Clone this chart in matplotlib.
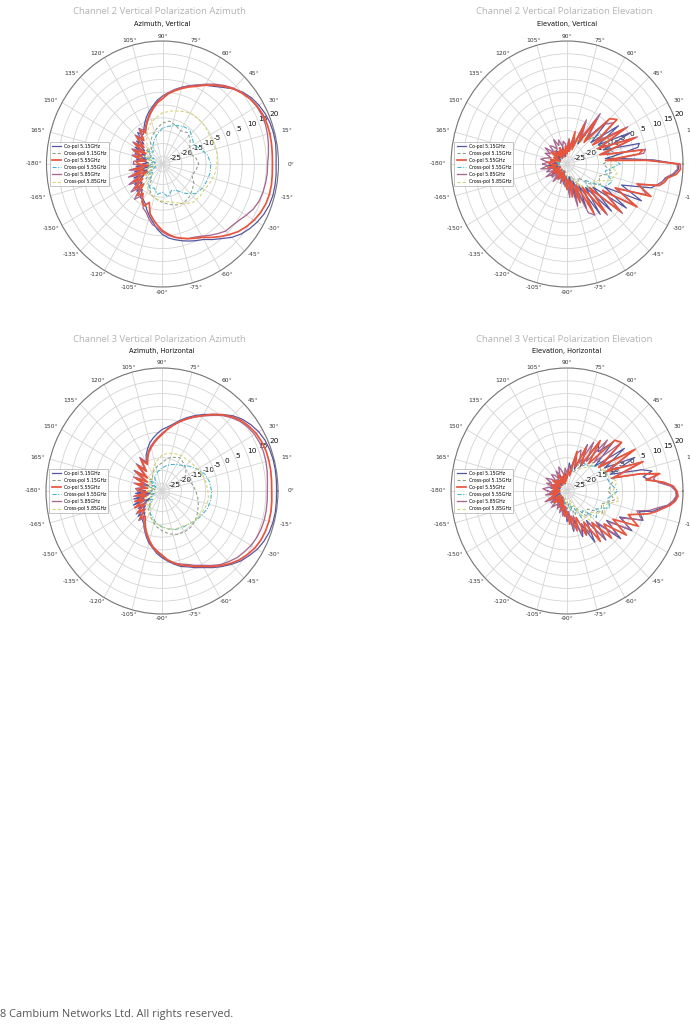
import numpy as np
import matplotlib
matplotlib.use('Agg')
import matplotlib.pyplot as plt

FIG_W, FIG_H = 690, 1025
fig = plt.figure(figsize=(6.9, 10.25), dpi=100)
fig.patch.set_facecolor('white')

# ---------------- angle grids (degrees) ----------------
AZ_ANG = np.arange(-180, 180, 5)
XP_ANG = np.arange(-180, 180, 10)
EL_ANG = np.concatenate([np.arange(-180, -14, 5), np.arange(-12.5, 12.6, 2.5), np.arange(15, 180, 5)])

SERIES_LABELS = ['Co-pol 5.15GHz', 'Cross-pol 5.15GHz', 'Co-pol 5.55GHz',
                 'Cross-pol 5.55GHz', 'Co-pol 5.85GHz', 'Cross-pol 5.85GHz']
THETA_TICKS = [0, 15, 30, 45, 60, 75, 90, 105, 120, 135, 150, 165,
               180, 195, 210, 225, 240, 255, 270, 285, 300, 315, 330, 345]
THETA_LABELS = ['0°', '15°', '30°', '45°', '60°', '75°', '90°', '105°', '120°', '135°',
                '150°', '165°', '-180°', '-165°', '-150°', '-135°', '-120°', '-105°',
                '-90°', '-75°', '-60°', '-45°', '-30°', '-15°']
R_TICKS = [-25, -20, -15, -10, -5, 0, 5, 10, 15, 20]

# ================= Channel 2 Azimuth, Vertical (5 deg / 10 deg grids) =================
c1_co515 = [-20, -17, -22, -16, -21, -15, -19, -14, -17, -13, -15, -12,
            -12, -11, -9, -7, -5, -2.5, -0.5, 1.0, 2.0, 3.0, 4.0, 5.0,
            6, 8, 10, 12.5, 14.5, 16, 17.3, 18.3, 19, 19.3, 19.3, 19.2,
            19, 19.2, 19.5, 19.5, 19.3, 18.8, 18, 17, 15.5, 13.5, 11, 9,
            7.5, 6, 4.5, 3, 1.5, -0.3, -1.5, -3, -5, -6.7, -8.5, -10.5,
            -12.5, -14, -12, -17, -14, -19, -15, -20, -16, -21, -17, -22]
c1_co555 = [-18, -22, -16, -20, -15, -21, -14, -18, -13, -17, -12, -14,
            -11, -10, -12, -8, -6, -4, -2, -0.5, 1, 2, 3, 4,
            5, 7, 9, 11, 13, 14.5, 15.8, 16.8, 17.5, 17.8, 17.8, 17.6,
            17.5, 17.6, 17.8, 18, 18, 17.8, 17.2, 16.3, 15, 13.5, 11.5, 9.5,
            7.5, 5.5, 4, 2.5, 1, -0.5, -2.5, -4, -6, -8, -10, -12,
            -14, -12, -16, -13, -18, -14, -20, -15, -19, -16, -21, -17]
c1_co585 = [-16, -20, -14, -19, -13, -18, -12, -16, -11, -15, -10, -13,
            -12, -9, -8, -6, -4, -3, -1.5, 0, 1, 2, 3, 3.5,
            4.5, 6, 7.5, 9, 9.5, 10.5, 12, 13.5, 14.5, 15, 15.3, 15.5,
            15.5, 16, 16.5, 17, 17.3, 17.3, 17, 16.3, 15.2, 13.8, 12, 10,
            8, 6, 4.5, 3, 1.5, 0, -1.5, -3.5, -5.5, -7.5, -9.5, -11.5,
            -13, -11, -15, -12, -17, -13, -18, -14, -17, -15, -19, -16]
c1_x515 = [-22, -24, -20, -23, -19, -21, -17, -15, -14, -13, -12, -11,
           -10.5, -11, -12, -13, -15, -14, -13, -14, -16, -15, -13, -12,
           -13, -12, -11, -12, -14, -16, -18, -21, -19, -23, -20, -24]
c1_x555 = [-24, -21, -25, -20, -23, -19, -17, -18, -16, -17, -15, -17,
           -16, -13, -10, -9, -8.5, -8, -8, -9, -11, -13, -12, -10.5,
           -11, -12, -13, -14, -16, -18, -20, -22, -20, -24, -21, -25]
c1_x585 = [-23, -20, -24, -19, -22, -18, -16, -15, -14, -13.5, -13, -12,
           -10, -8.5, -8, -8, -7, -6, -5.5, -5, -5.5, -5.5, -5, -5,
           -5, -6, -7, -8, -10, -12, -15, -18, -21, -19, -23, -20]

# ================= Channel 3 Azimuth, Horizontal =================
c3_co515 = [-21, -17, -23, -16, -20, -15, -22, -16, -19, -14, -17, -14,
            -13, -11, -9, -7, -5.5, -3.5, -2, -0.5, 1, 2.5, 3.5, 5,
            6.5, 8.5, 10.5, 12.5, 14.5, 16, 17.5, 18.5, 19.2, 19.5, 19.6, 19.5,
            19.4, 19.5, 19.6, 19.6, 19.4, 19, 18.2, 17, 15.5, 13.5, 11, 8.5,
            6.5, 4.5, 2.5, 0.5, -1.5, -3, -4, -5.5, -7, -8.5, -10.5, -12.5,
            -15, -13, -17, -15, -19, -14, -20, -16, -22, -17, -21, -18]
c3_co555 = [-19, -22, -17, -21, -16, -20, -15, -19, -15, -18, -14, -16,
            -14, -12, -10, -8, -6, -4.5, -3, -1, 0.5, 2, 3, 4.5,
            6, 8, 10, 12, 13.8, 15.2, 16.4, 17.2, 17.6, 17.8, 17.8, 17.6,
            17.4, 17.5, 17.7, 17.8, 17.8, 17.5, 17, 16, 14.8, 13, 10.8, 8.5,
            6, 4, 2, 0, -2, -4, -6, -7.5, -9, -10.5, -12, -14,
            -16, -13, -18, -14, -20, -15, -21, -16, -20, -17, -22, -18]
c3_co585 = [-18, -21, -16, -22, -17, -19, -16, -20, -14, -18, -13, -15,
            -13, -11, -9.5, -7.5, -5.5, -4, -2.5, -1, 0.5, 1.5, 2.5, 4,
            5.5, 7.5, 9.5, 11, 12.5, 13.5, 14.5, 15.2, 15.6, 15.8, 15.8, 15.7,
            15.6, 15.8, 16.2, 16.5, 16.7, 16.6, 16.2, 15.4, 14.2, 12.5, 10.5, 8,
            5.8, 3.8, 1.8, 0, -2, -3.8, -5.5, -7, -8.5, -10, -11.5, -13.5,
            -15, -12, -17, -13, -19, -14, -20, -15, -21, -16, -20, -17]
c3_x515 = [-23, -20, -24, -21, -22, -19, -18, -16, -14, -12.5, -11, -10,
           -9.5, -9.5, -10, -11, -12, -13, -14, -15, -16, -17, -15, -14,
           -13, -14, -15, -17, -18, -19, -20, -22, -21, -24, -21, -25]
c3_x555 = [-24, -22, -25, -21, -23, -20, -18, -17, -15, -14, -13, -12,
           -11.5, -11, -10, -9, -8, -7.5, -7.5, -8, -9, -11, -13, -15,
           -16, -17, -18, -19, -20, -21, -22, -24, -22, -25, -23, -24]
c3_x585 = [-22, -24, -20, -23, -19, -21, -17, -16, -15, -14, -13, -12,
           -12, -11, -10, -9.5, -9, -8.5, -9, -9.5, -10, -11, -11.5, -12,
           -12, -12.5, -13, -14, -16, -18, -20, -22, -20, -23, -21, -24]

# ================= Channel 2 Elevation, Vertical (EL_ANG grid) =================
c2_co555 = [-21, -24, -20, -23, -22, -25, -21, -24, -22, -25, -23, -21,
            -24, -22, -25, -21, -23, -22, -18, -22, -15, -21, -12, -19,
            -6, -17, -3, -15, 1, -10, 5.5, -6, 9, 2,
            11, 13, 14, 17.5, 19, 18.8, 5, -12, 2, 4, -10,
            -14, 2, -14, 0, -15, -1, -3, -17, -7, -18, -11, -22,
            -15, -23, -19, -24, -21, -24, -22, -25, -21, -24, -22, -25,
            -21, -23, -20, -24, -22, -25, -21, -23, -20]
c2_co515 = [-22, -20, -24, -21, -25, -22, -23, -20, -24, -22, -21, -24,
            -22, -25, -21, -24, -20, -23, -20, -16, -23, -13, -21, -9,
            -18, -4, -16, -2, -14, 2, -10, 6, -4, 8,
            10, 12, 13.5, 16.5, 18.2, 18, 8, -4, -12, -6, 2,
            3, -12, 1, -13, -2, -15, -4, -14, -9, -19, -12, -21,
            -17, -23, -20, -24, -22, -25, -21, -23, -24, -22, -25, -21,
            -23, -24, -21, -25, -22, -24, -23, -21, -24]
c2_co585 = [-18, -20, -17, -21, -19, -22, -18, -21, -20, -23, -19, -22,
            -21, -23, -20, -22, -21, -19, -22, -15, -21, -11, -18, -7,
            -5, -16, -2, -14, 2, -9, 4, -5, 7, 3,
            10, 12, 13, 16, 17.8, 17.5, 6, -10, 4, 5, -9,
            -12, 3, -13, 1, -12, -3, -6, -15, -4, -16, -9, -20,
            -16, -21, -18, -22, -20, -19, -21, -18, -20, -17, -21, -19,
            -18, -21, -17, -20, -18, -21, -19, -17, -20]
c2_x515 = [-25, -24, -25, -23, -25, -24, -25, -23, -24, -22, -20, -23,
           -18, -21, -16, -12, -14, -9, -13, -7, -10, -8, -12, -15,
           -14, -18, -20, -22, -24, -23, -25, -24, -25, -23, -25, -24]
c2_x555 = [-24, -25, -23, -25, -24, -25, -23, -24, -25, -21, -23, -19,
           -17, -14, -18, -10, -8, -12, -6, -11, -9, -13, -10, -16,
           -17, -19, -22, -21, -24, -25, -23, -25, -24, -25, -23, -25]
c2_x585 = [-23, -25, -24, -22, -25, -23, -24, -25, -22, -24, -20, -22,
           -19, -16, -13, -15, -9, -7, -10, -8, -12, -9, -14, -13,
           -19, -17, -21, -23, -22, -24, -25, -23, -24, -22, -25, -24]

# ================= Channel 3 Elevation, Horizontal =================
c4_co555 = [-22, -25, -21, -24, -22, -20, -23, -25, -21, -24, -22, -25,
            -23, -21, -24, -20, -22, -18, -20, -15, -18, -12, -17, -9,
            -14, -4, -12, -2, -8, 2, -6, 4.5, -1, 6.5,
            9.5, 12, 15, 17, 18, 17.5, 16, 12, 5, 11, 3,
            -8, 5.5, -10, 4.5, -12, 1.5, 0, -14, -4, -16, -9, -18,
            -12, -22, -20, -22, -24, -21, -25, -22, -24, -21, -25, -23,
            -22, -24, -21, -25, -23, -21, -24, -22, -25]
c4_co515 = [-23, -21, -24, -22, -25, -21, -23, -20, -24, -22, -25, -21,
            -22, -24, -20, -23, -19, -21, -16, -19, -12, -16, -9, -13,
            -5, -14, -3, -10, 1, -8, 3, -4, 5.5, 3,
            8.5, 11, 14.5, 16.5, 17.5, 17.2, 15.5, 11, 6, 4, 8,
            4, -9, 3, -10, 1, -13, -1, -8, -5, -17, -8, -19,
            -13, -19, -17, -23, -21, -24, -22, -25, -21, -23, -24, -22,
            -25, -23, -21, -24, -22, -25, -23, -21, -24]
c4_co585 = [-20, -22, -19, -23, -21, -18, -22, -20, -23, -19, -21, -22,
            -20, -23, -19, -21, -18, -22, -17, -20, -13, -18, -10, -14,
            -9, -13, -4, -11, -1, -7, 2, -3, 5, 2,
            7, 10, 14, 16, 17.2, 17, 15, 10, 8, 10, 3,
            -9, 4, -8, 3, -10, 1, -12, -2, -14, -6, -16, -11,
            -13, -20, -18, -21, -19, -22, -20, -18, -21, -19, -22, -20,
            -19, -22, -20, -18, -21, -19, -22, -20, -18]
c4_x515 = [-25, -23, -24, -25, -22, -24, -25, -23, -24, -21, -23, -18,
           -20, -15, -17, -11, -13, -8, -11, -9, -7, -12, -10, -14,
           -17, -20, -19, -22, -24, -23, -25, -24, -23, -25, -24, -23]
c4_x555 = [-24, -25, -23, -24, -25, -22, -24, -25, -23, -24, -20, -22,
           -16, -18, -12, -14, -9, -11, -7, -10, -11, -8, -13, -15,
           -15, -18, -21, -23, -22, -25, -24, -23, -25, -24, -22, -25]
c4_x585 = [-23, -24, -25, -22, -24, -25, -23, -22, -25, -23, -21, -24,
           -18, -13, -15, -10, -12, -6, -9, -7, -10, -11, -12, -16,
           -18, -16, -20, -22, -25, -23, -24, -25, -22, -24, -25, -23]

# ---------------- styling ----------------
COLORS = ['#5457a0', '#8c9c86', '#e8553d', '#40b3c8', '#a8678f', '#d6d26c']
STYLES = ['-', (0, (3, 2)), '-', (0, (4, 1.5, 1, 1.5)), '-', (0, (3, 2))]
WIDTHS = [0.9, 0.75, 1.25, 0.75, 0.95, 0.75]
ZORD = [4, 3, 5, 3, 4, 3]

RX, RY = 116, 123          # ellipse radii of each polar plot (px)
LAB_DX, LAB_DY = 13, 5     # extra offset of angle labels (px)


def closed(ang, vals):
    a = np.deg2rad(np.append(np.asarray(ang, float), ang[0] + 360))
    v = np.append(np.asarray(vals, float), vals[0])
    return a, v


def draw(cx, cy, title, subtitle, co_ang, co515, x515, co555, x555, co585, x585):
    ax = fig.add_axes([(cx - RX) / FIG_W, 1 - (cy + RY) / FIG_H,
                       2 * RX / FIG_W, 2 * RY / FIG_H], projection='polar')
    data = [(co_ang, co515), (XP_ANG, x515), (co_ang, co555),
            (XP_ANG, x555), (co_ang, co585), (XP_ANG, x585)]
    handles = []
    for i, (ang, vals) in enumerate(data):
        t, r = closed(ang, vals)
        h, = ax.plot(t, r, color=COLORS[i], linestyle=STYLES[i], lw=WIDTHS[i],
                     zorder=ZORD[i], label=SERIES_LABELS[i])
        handles.append(h)
    ax.set_thetagrids(THETA_TICKS, [''] * len(THETA_TICKS))
    ax.set_xlim(0, 2 * np.pi)
    ax.set_ylim(-28, 20)
    ax.set_yticks(R_TICKS)
    ax.set_yticklabels([str(v) for v in R_TICKS])
    ax.set_rlabel_position(22.5)
    ax.tick_params(axis='y', labelsize=5.3, labelcolor='#111111')
    ax.grid(True, color='#d4d4d4', lw=0.6)
    ax.spines['polar'].set_color('#777777')
    ax.spines['polar'].set_linewidth(0.8)
    ax.set_facecolor('white')
    ax.set_aspect('auto')
    # angle labels placed on an ellipse just outside the plot
    for a, lab in zip(THETA_TICKS, THETA_LABELS):
        th = np.deg2rad(a)
        px = cx + (RX + LAB_DX) * np.cos(th)
        py = cy - (RY + LAB_DY) * np.sin(th)
        fig.text(px / FIG_W, 1 - py / FIG_H, lab, ha='center', va='center',
                 fontsize=4.3, color='#333333')
    leg = ax.legend(handles=handles, loc='center left', bbox_to_anchor=(0.005, 0.5),
                    fontsize=3.3, frameon=True, fancybox=False, edgecolor='#999999',
                    handlelength=2.0, labelspacing=0.45, borderpad=0.5, handletextpad=0.6)
    leg.get_frame().set_linewidth(0.5)
    leg.set_zorder(10)
    fig.text((cx - 3) / FIG_W, 1 - (cy - 152) / FIG_H, title, ha='center', va='center',
             fontsize=6.8, color='#b3b3b3', family='Open Sans')
    fig.text(cx / FIG_W, 1 - (cy - 140) / FIG_H, subtitle, ha='center', va='center',
             fontsize=4.8, color='#111111', fontweight='medium')


draw(162.5, 164, 'Channel 2 Vertical Polarization Azimuth', 'Azimuth, Vertical',
     AZ_ANG, c1_co515, c1_x515, c1_co555, c1_x555, c1_co585, c1_x585)
draw(567, 164, 'Channel 2 Vertical Polarization Elevation', 'Elevation, Vertical',
     EL_ANG, c2_co515, c2_x515, c2_co555, c2_x555, c2_co585, c2_x585)
draw(162, 491, 'Channel 3 Vertical Polarization Azimuth', 'Azimuth, Horizontal',
     AZ_ANG, c3_co515, c3_x515, c3_co555, c3_x555, c3_co585, c3_x585)
draw(567, 491, 'Channel 3 Vertical Polarization Elevation', 'Elevation, Horizontal',
     EL_ANG, c4_co515, c4_x515, c4_co555, c4_x555, c4_co585, c4_x585)

fig.text(0 / FIG_W, 1 - 1015 / FIG_H, '8 Cambium Networks Ltd. All rights reserved.',
         ha='left', va='center', fontsize=7.9, color='#555555', family='Open Sans')

fig.savefig('out.png', dpi=100, facecolor='white')
